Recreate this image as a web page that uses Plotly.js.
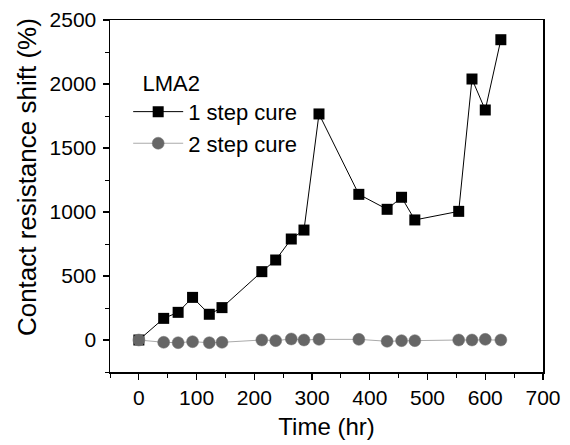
<!DOCTYPE html>
<html>
<head>
<meta charset="utf-8">
<script src="https://cdn.plot.ly/plotly-3.0.1.min.js"></script>
<style>html,body{margin:0;padding:0;background:#fff;}#chart{width:570px;height:445px;}</style>
</head>
<body>
<div id="chart"></div>
<script>
// Time (hr)
const timeOneStep = [0, 43, 68, 93, 122, 144, 213, 237, 264, 286, 312, 381, 430, 455, 478, 554, 577, 600, 627];
const shiftOneStep = [0, 169, 216, 333, 201, 253, 534, 625, 789, 859, 1766, 1138, 1021, 1115, 938, 1005, 2039, 1797, 2346];
const timeTwoStep = [0, 43, 68, 93, 122, 144, 213, 237, 264, 286, 312, 381, 430, 455, 478, 554, 577, 600, 627];
const shiftTwoStep = [0, -18, -21, -13, -21, -18, 0, -5, 8, 0, 5, 5, -10, -5, -5, 0, 0, 5, 0];
const seriesNames = ["1 step cure", "2 step cure"];
const legendTitle = "\u00a0\u00a0LMA2";
const xTitle = "Time (hr)";
const yTitle = "Contact resistance shift (%)";

const font = "Arial, 'Liberation Sans', sans-serif";

const traces = [
  {
    x: timeOneStep, y: shiftOneStep, name: seriesNames[0], type: "scatter", mode: "lines+markers",
    line: {color: "#000", width: 1},
    marker: {symbol: "square", size: 11, color: "#000"}
  },
  {
    x: timeTwoStep, y: shiftTwoStep, name: seriesNames[1], type: "scatter", mode: "lines+markers",
    line: {color: "#aaaaaa", width: 1},
    marker: {symbol: "circle", size: 12, color: "#666666", line: {color: "#777", width: 0.5}}
  }
];

const axisCommon = {
  showgrid: false, zeroline: false, showline: true, mirror: true,
  linecolor: "#000", linewidth: 1.5,
  ticks: "outside", ticklen: 6, tickwidth: 1.2, tickcolor: "#000"
};

const layout = {
  width: 570, height: 445,
  margin: {l: 110, r: 27, t: 20, b: 73},
  paper_bgcolor: "#fff", plot_bgcolor: "#fff",
  font: {family: font, color: "#000"},
  showlegend: true,
  legend: {
    x: 0.042, y: 0.88, xanchor: "left", yanchor: "top",
    bgcolor: "rgba(0,0,0,0)", borderwidth: 0,
    font: {family: font, size: 22, color: "#000"},
    title: {text: legendTitle, font: {family: font, size: 22, color: "#000"}, side: "top"},
    itemwidth: 50, tracegroupgap: 0
  },
  xaxis: Object.assign({}, axisCommon, {
    range: [-50, 700], dtick: 100, tick0: 0,
    tickfont: {family: font, size: 21, color: "#000"},
    minor: {ticks: "outside", dtick: 50, ticklen: 4, tickcolor: "#000", tickwidth: 1},
    title: {text: xTitle, font: {family: font, size: 24, color: "#000"}, standoff: 10}
  }),
  yaxis: Object.assign({}, axisCommon, {
    range: [-250, 2500], dtick: 500, tick0: 0,
    tickfont: {family: font, size: 21, color: "#000"},
    minor: {ticks: "outside", dtick: 250, ticklen: 4, tickcolor: "#000", tickwidth: 1},
    ticklabelstandoff: 2
  }),
  annotations: [{
    text: yTitle, xref: "paper", yref: "paper", x: -0.19, y: 0.553,
    xanchor: "center", yanchor: "middle", textangle: -90, showarrow: false,
    font: {family: font, size: 26, color: "#000"}
  }]
};

Plotly.newPlot("chart", traces, layout, {displayModeBar: false, staticPlot: true});
</script>
</body>
</html>
